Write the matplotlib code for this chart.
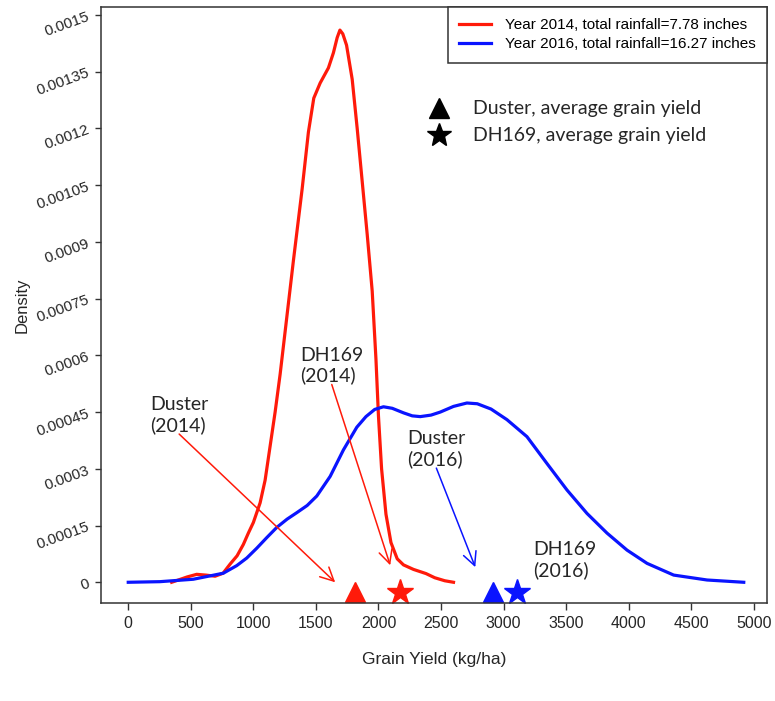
import matplotlib
matplotlib.use("Agg")
import matplotlib.pyplot as plt

# density curve (grain yield kg/ha, density)
yield_2014 = [347, 400, 470, 547, 620, 694, 758, 814, 870, 920, 960, 1000, 1054, 1094,
              1134, 1174, 1214, 1260, 1320, 1390, 1440, 1483, 1534, 1600, 1640, 1670, 1692,
              1715, 1745, 1790, 1830, 1870, 1910, 1950, 1980, 2000, 2025, 2060, 2100,
              2150, 2200, 2280, 2380, 2450, 2530, 2600]
dens_2014 = [0.0, 0.000006, 0.000014, 0.000021, 0.000019, 0.000016, 0.000024, 0.000048,
             0.00007, 0.0001, 0.00013, 0.000158, 0.00021, 0.00027, 0.00036, 0.00045,
             0.00055, 0.00068, 0.00085, 0.00104, 0.00119, 0.00128, 0.00132, 0.00136,
             0.0014, 0.00144, 0.00146, 0.00145, 0.00142, 0.00133, 0.0012, 0.00106, 0.00092,
             0.00077, 0.00059, 0.00044, 0.0003, 0.00018, 0.000105, 0.000062, 0.000046,
             0.000034, 0.000023, 0.000012, 0.000004, 0.0]

yield_2016 = [0, 253, 520, 760, 867, 947, 1027, 1107, 1187, 1270, 1347, 1430, 1507, 1614,
              1720, 1827, 1900, 1970, 2040, 2110, 2200, 2270, 2334, 2420, 2494, 2600, 2707,
              2790, 2900, 3027, 3187, 3347, 3507, 3667, 3827, 3987, 4147, 4360, 4627, 4920]
dens_2016 = [0.0, 0.0000016, 0.000008, 0.000024, 0.000044, 0.000064, 0.00009, 0.000118,
             0.000145, 0.000167, 0.000184, 0.000203, 0.000228, 0.00028, 0.00035, 0.00041,
             0.000438, 0.000457, 0.000464, 0.00046, 0.000448, 0.00044, 0.000438, 0.000442,
             0.00045, 0.000465, 0.000474, 0.000472, 0.000458, 0.00043, 0.000385, 0.000314,
             0.000244, 0.000182, 0.00013, 0.000085, 0.00005, 0.000019, 0.000006, 0.0]

# average grain yield of the two varieties
duster_avg = {"2014": 1814, "2016": 2918}
dh169_avg = {"2014": 2174, "2016": 3110}
marker_level = -0.000026

y_ticks = [0, 0.00015, 0.0003, 0.00045, 0.0006, 0.00075, 0.0009, 0.00105, 0.0012, 0.00135, 0.0015]
y_tick_labels = ["0", "0.00015", "0.0003", "0.00045", "0.0006", "0.00075", "0.0009",
                 "0.00105", "0.0012", "0.00135", "0.0015"]
x_ticks = [0, 500, 1000, 1500, 2000, 2500, 3000, 3500, 4000, 4500, 5000]

RED = "#ff1a0a"
BLUE = "#0a14ff"
TXT = "#262626"
CAL = ["Lato", "DejaVu Sans"]

fig = plt.figure(figsize=(7.75, 7.01), dpi=100)
ax = fig.add_axes([0.1303, 0.1398, 0.8594, 0.8502])

ax.plot(yield_2014, dens_2014, color=RED, lw=2.3, label="Year 2014, total rainfall=7.78 inches")
ax.plot(yield_2016, dens_2016, color=BLUE, lw=2.3, label="Year 2016, total rainfall=16.27 inches")

# average yield markers below the curves
ax.plot(duster_avg["2014"], marker_level, marker="^", ms=14.5, color=RED, ls="none")
ax.plot(dh169_avg["2014"], marker_level, marker="*", ms=19, color=RED, ls="none")
ax.plot(duster_avg["2016"], marker_level, marker="^", ms=14.5, color=BLUE, ls="none")
ax.plot(dh169_avg["2016"], marker_level, marker="*", ms=19, color=BLUE, ls="none")

ax.set_xlim(-218, 5106)
ax.set_ylim(-0.0000548, 0.001521)
ax.set_xticks(x_ticks)
ax.set_xticklabels([str(v) for v in x_ticks], fontfamily="Liberation Sans", fontsize=11.5, color=TXT)
ax.set_yticks(y_ticks)
ax.set_yticklabels(y_tick_labels, fontfamily="Liberation Sans", fontsize=11, color=TXT)
ax.tick_params(axis="y", labelrotation=20, length=4, width=1, pad=3, colors="#333333")
ax.tick_params(axis="x", length=5, width=1, pad=4, colors="#333333")
for lab in ax.get_yticklabels() + ax.get_xticklabels():
    lab.set_color(TXT)
for sp in ax.spines.values():
    sp.set_color("#333333")
    sp.set_linewidth(1.1)

ax.set_xlabel("Grain Yield (kg/ha)", fontfamily="Liberation Sans", fontsize=12.5, color=TXT)
ax.set_ylabel("Density", fontfamily="Liberation Sans", fontsize=12, color=TXT)
ax.xaxis.set_label_coords(0.5, -0.083)
ax.yaxis.set_label_coords(-0.107, 0.5)

leg = ax.legend(loc="upper right", borderaxespad=0, fancybox=False, edgecolor="#333333",
                framealpha=1, prop={"family": "Liberation Sans", "size": 11},
                handlelength=2.1, handletextpad=0.9, borderpad=0.75, labelspacing=0.3)
leg.get_frame().set_linewidth(1.1)

# second legend: marker shapes
ax.plot(0.5075, 0.8305, marker="^", ms=15, color="black", transform=ax.transAxes, ls="none")
ax.plot(0.5075, 0.785, marker="*", ms=18, color="black", transform=ax.transAxes, ls="none")
ax.text(0.5586, 0.8305, "Duster, average grain yield", transform=ax.transAxes,
        family=CAL, fontsize=14, color=TXT, va="center")
ax.text(0.5586, 0.785, "DH169, average grain yield", transform=ax.transAxes,
        family=CAL, fontsize=14, color=TXT, va="center")

# labels with arrows
ax.annotate("Duster\n(2014)", xy=(1654, 0.0), xytext=(174, 0.000442),
            family=CAL, fontsize=14, color=TXT, va="center", linespacing=1.2,
            arrowprops=dict(arrowstyle="->", color=RED, lw=1.1, mutation_scale=24,
                            shrinkA=0, shrinkB=0, patchA=None, relpos=(0.5, 0)))
ax.annotate("DH169\n(2014)", xy=(2094, 0.000045), xytext=(1374, 0.000573),
            family=CAL, fontsize=14, color=TXT, va="center", linespacing=1.2,
            arrowprops=dict(arrowstyle="->", color=RED, lw=1.1, mutation_scale=24,
                            shrinkA=0, shrinkB=0, patchA=None, relpos=(0.5, 0)))
ax.annotate("Duster\n(2016)", xy=(2774, 0.00004), xytext=(2230, 0.000352),
            family=CAL, fontsize=14, color=TXT, va="center", linespacing=1.2,
            arrowprops=dict(arrowstyle="->", color=BLUE, lw=1.1, mutation_scale=24,
                            shrinkA=0, shrinkB=0, patchA=None, relpos=(0.5, 0)))
ax.text(3238, 0.000058, "DH169\n(2016)", family=CAL, fontsize=14, color=TXT,
        va="center", linespacing=1.2)

fig.savefig("out.png", dpi=100)
